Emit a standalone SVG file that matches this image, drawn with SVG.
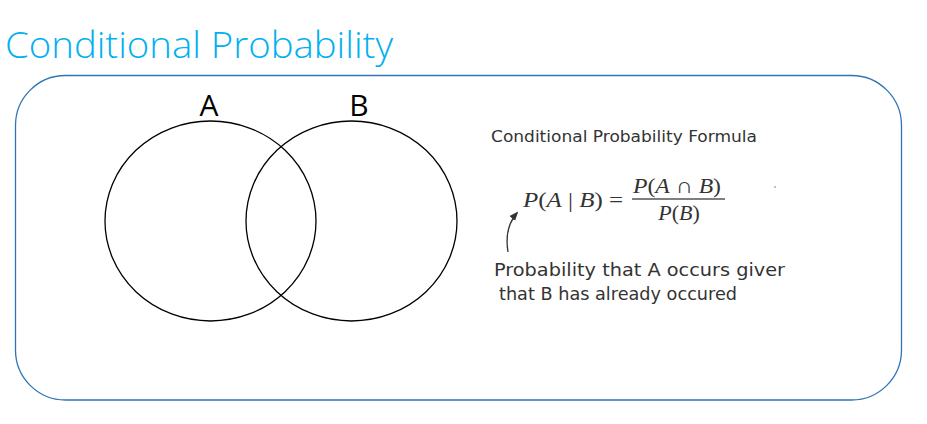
<svg xmlns="http://www.w3.org/2000/svg" width="927" height="424" viewBox="0 0 927 424">
<style>
.title{font-family:"Open Sans","Liberation Sans",sans-serif;font-weight:300;font-size:36px;fill:#00B0F0}
.lbl{font-family:"Open Sans","Liberation Sans",sans-serif;font-size:30px;fill:#000}
.hand{font-family:"DejaVu Sans","Liberation Sans",sans-serif;fill:#333}
.math{font-family:"Liberation Serif",serif;font-size:22px;fill:#333}
.circ{fill:none;stroke:#000;stroke-width:1.3}
</style>
<defs>
<marker id="ah" viewBox="0 0 10 10" refX="8" refY="5" markerWidth="7" markerHeight="7" orient="auto">
<path d="M0,1 L10,5 L0,9 z" fill="#333"/>
</marker>
</defs>
<rect width="927" height="424" fill="#fff"/>
<text class="title" x="5" y="58" textLength="388" lengthAdjust="spacingAndGlyphs">Conditional Probability</text>
<rect x="15.5" y="75.5" width="886" height="324.5" rx="50" ry="50" fill="none" stroke="#2E75B6" stroke-width="1.3"/>
<g id="nodeA">
<ellipse class="circ" cx="210.5" cy="221" rx="105.5" ry="100"/>
<text class="lbl" x="209" y="116" text-anchor="middle">A</text>
</g>
<g id="nodeB">
<ellipse class="circ" cx="351.5" cy="221" rx="105.5" ry="100"/>
<text class="lbl" x="359" y="116" text-anchor="middle">B</text>
</g>
<g id="formula">
<text class="hand" x="491" y="142" font-size="15" textLength="266" lengthAdjust="spacingAndGlyphs">Conditional Probability Formula</text>
<text class="math" x="523" y="207" textLength="100" lengthAdjust="spacingAndGlyphs"><tspan font-style="italic">P</tspan>(<tspan font-style="italic">A</tspan> | <tspan font-style="italic">B</tspan>) =</text>
<text class="math" x="633" y="193" textLength="88" lengthAdjust="spacingAndGlyphs"><tspan font-style="italic">P</tspan>(<tspan font-style="italic">A</tspan> ∩ <tspan font-style="italic">B</tspan>)</text>
<line x1="632" y1="199" x2="725" y2="199" stroke="#555" stroke-width="1.5"/>
<text class="math" x="679" y="220" text-anchor="middle"><tspan font-style="italic">P</tspan>(<tspan font-style="italic">B</tspan>)</text>
<circle cx="775" cy="187" r="0.7" fill="#555"/>
</g>
<g id="connectors">
<path d="M508,252 Q504,228 517,213" fill="none" stroke="#333" stroke-width="1.3" marker-end="url(#ah)"/>
</g>
<g id="note">
<text class="hand" x="494" y="276" font-size="17" textLength="291" lengthAdjust="spacingAndGlyphs">Probability that A occurs giver</text>
<text class="hand" x="499" y="300" font-size="17" textLength="238" lengthAdjust="spacingAndGlyphs">that B has already occured</text>
</g>
</svg>
